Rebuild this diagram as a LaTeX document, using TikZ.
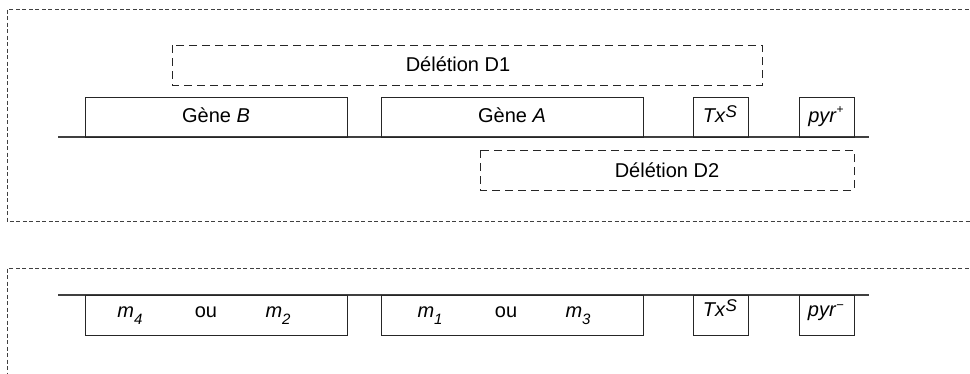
\documentclass[tikz,border=0pt]{standalone}
\usepackage{fontspec}
\setmainfont{Liberation Sans}
\newcommand\subsc[1]{\raisebox{-0.35em}{\fontsize{15}{15}\selectfont\textit{#1}}}
\newcommand\supsc[1]{\raisebox{0.25em}{\fontsize{17}{17}\selectfont\textit{#1}}}
\newcommand\plussup{\raisebox{0.42em}{\fontsize{12}{12}\selectfont +}}
\newcommand\minussup{\raisebox{0.33em}{\fontsize{13}{13}\selectfont −}}
\begin{document}
\begin{tikzpicture}[x=1pt,y=-1pt,
  every node/.style={font=\fontsize{20}{24}\selectfont, inner sep=0pt, text=black},
  lbl/.style={anchor=base},
  frame/.style={draw=black!75, line width=0.9pt, dash pattern=on 4pt off 2.5pt},
  del/.style={draw=black!85, line width=1pt, dash pattern=on 8pt off 5pt},
  gene/.style={draw=black!85, line width=1pt},
  chrom/.style={draw=black!75, line width=1.2pt}]
\useasboundingbox (0,0) rectangle (970,373);
% frames
\draw[frame] (975,9) -- (7,9) -- (7,221) -- (975,221);
\draw[frame] (975,268) -- (7,268) -- (7,378);
% top chromosome
\coordinate (c1l) at (58,137);
\coordinate (c1r) at (869,137);
\draw[chrom] (c1l) -- (c1r);
\draw[gene] (85,97) rectangle (347,137);
\draw[gene] (381,97) rectangle (643,137);
\draw[gene] (693,97) rectangle (748,137);
\draw[gene] (799,97) rectangle (854,137);
\draw[del] (172,45) rectangle (762,85);
\draw[del] (480,150) rectangle (854,190);
\node[lbl] (tB) at (216,122) {Gène \textit{B}};
\node[lbl] (tA) at (512,122) {Gène \textit{A}};
\node[lbl] (tx1) at (720,122) {\textit{Tx}\supsc{S}};
\node[lbl] (pyr1) at (826,122) {\textit{pyr}\plussup};
\node[lbl] (d1) at (458,71) {Délétion D1};
\node[lbl] (d2) at (667,177) {Délétion D2};
% bottom chromosome
\coordinate (c2l) at (58,295);
\coordinate (c2r) at (869,295);
\draw[chrom] (c2l) -- (c2r);
\draw[gene] (85,295) rectangle (347,335);
\draw[gene] (381,295) rectangle (643,335);
\draw[gene] (693,295) rectangle (748,335);
\draw[gene] (799,295) rectangle (854,335);
\node[lbl] (m4) at (130,317) {\textit{m}\subsc{4}};
\node[lbl] (ou1) at (206,317) {ou};
\node[lbl] (m2) at (278,317) {\textit{m}\subsc{2}};
\node[lbl] (m1) at (430,317) {\textit{m}\subsc{1}};
\node[lbl] (ou2) at (506,317) {ou};
\node[lbl] (m3) at (578,317) {\textit{m}\subsc{3}};
\node[lbl] (tx2) at (720,316) {\textit{Tx}\supsc{S}};
\node[lbl] (pyr2) at (826,316) {\textit{pyr}\minussup};
\end{tikzpicture}
\end{document}
